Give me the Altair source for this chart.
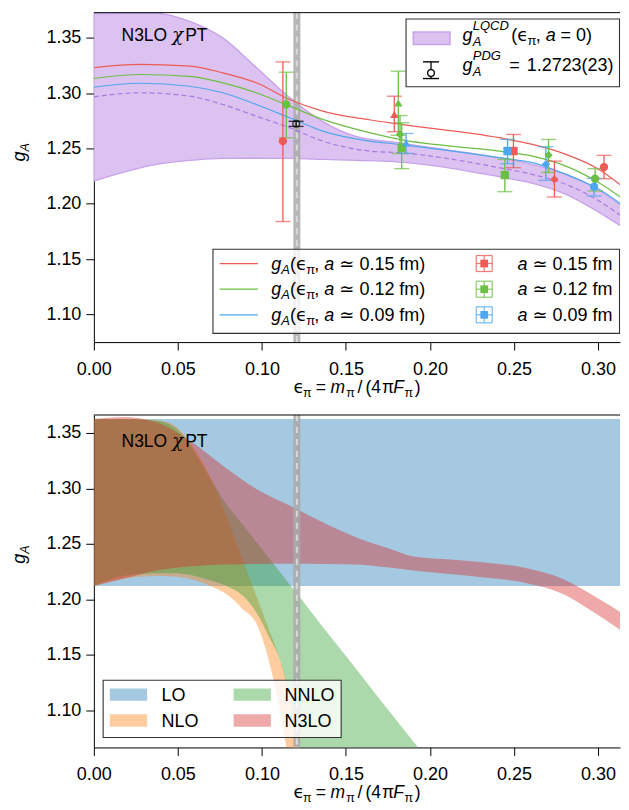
import altair as alt
import pandas as pd

FONT = "Liberation Sans"
GFONT = "DejaVu Sans"

# ---------------- layout constants (page pixels of the reference) ----------------
XMAX = 0.31313
TOP_DOM = [1.0750, 1.37283]
BOT_DOM = [1.06622, 1.36622]
W, H1, H2 = 527, 330, 333
X0, Y0T, Y0B = 94, 8, 411

x_ticks = [0.0, 0.05, 0.10, 0.15, 0.20, 0.25, 0.30]
y_ticks = [1.10, 1.15, 1.20, 1.25, 1.30, 1.35]

# ---------------- top panel data ----------------
eps_curve = [0.0, 0.0273, 0.057, 0.0768, 0.0967, 0.1165, 0.1362, 0.164, 0.1818, 0.2412, 0.261, 0.281, 0.3006, 0.318]
ga_a015 = [1.3230, 1.3260, 1.3244, 1.3184, 1.3094, 1.2943, 1.2838, 1.2760, 1.2720, 1.2598, 1.2537, 1.2447, 1.2311, 1.2116]
ga_a012 = [1.3133, 1.3169, 1.3153, 1.3094, 1.3004, 1.2883, 1.2763, 1.2643, 1.2582, 1.2477, 1.2432, 1.2341, 1.2191, 1.2011]
ga_a009 = [1.3054, 1.3090, 1.3063, 1.3004, 1.2898, 1.2778, 1.2657, 1.2567, 1.2537, 1.2417, 1.2372, 1.2266, 1.2131, 1.1950]
ga_a000 = [1.2967, 1.3004, 1.2973, 1.2898, 1.2792, 1.2688, 1.2567, 1.2477, 1.2462, 1.2327, 1.2266, 1.2176, 1.2026, 1.1845]

eps_band = [0.0, 0.02, 0.0372, 0.057, 0.0767, 0.0967, 0.1165, 0.136, 0.156, 0.18, 0.20, 0.241, 0.26, 0.281, 0.30, 0.318]
band_hi = [1.3717, 1.3722, 1.3722, 1.3650, 1.3500, 1.3232, 1.2961, 1.2745, 1.2609, 1.2555, 1.2510, 1.2417, 1.2360, 1.2266, 1.2130, 1.1935]
band_lo = [1.2206, 1.2295, 1.2356, 1.2393, 1.2411, 1.2412, 1.2410, 1.2402, 1.2393, 1.2380, 1.2350, 1.2245, 1.2190, 1.2086, 1.1930, 1.1755]

pt_ens = ["a15", "a15", "a15", "a15", "a15",
          "a12", "a12", "a12", "a12", "a12", "a12", "a12",
          "a09", "a09", "a09", "a09"]
pt_eps = [0.1125, 0.1788, 0.2497, 0.2741, 0.3036,
          0.1145, 0.1812, 0.1822, 0.1832, 0.2446, 0.2706, 0.2983,
          0.1858, 0.2462, 0.2690, 0.2977]
pt_ga = [1.2567, 1.2808, 1.2477, 1.2221, 1.2332,
         1.2898, 1.2913, 1.2627, 1.2507, 1.2260, 1.2440, 1.2227,
         1.2552, 1.2477, 1.2357, 1.2155]
pt_lo = [1.1840, 1.2652, 1.2327, 1.2062, 1.2227,
         1.2597, 1.2620, 1.2455, 1.2318, 1.2110, 1.2284, 1.2116,
         1.2456, 1.2363, 1.2212, 1.2071]
pt_hi = [1.3283, 1.2973, 1.2627, 1.2386, 1.2438,
         1.3190, 1.3199, 1.2798, 1.2733, 1.2402, 1.2582, 1.2318,
         1.2636, 1.2582, 1.2516, 1.2230]
pt_shape = ["circle", "triangle-up", "square", "diamond", "circle",
            "circle", "triangle-up", "diamond", "square", "square", "diamond", "circle",
            "triangle-up", "square", "diamond", "circle"]

pdg_eps, pdg_ga, pdg_err = [0.1204], [1.2723], [0.0023]
eps_phys = [0.1208]

# ---------------- bottom panel data ----------------
lo_eps = [0.0, 0.32]
lo_lo = [1.2120, 1.2120]
lo_hi = [1.3626, 1.3626]

nlo_eps = [0.0, 0.0174, 0.0372, 0.0471, 0.057, 0.067, 0.0768, 0.0828, 0.0887, 0.0967, 0.1046, 0.110, 0.1145, 0.118, 0.1225, 0.13]
nlo_lo = [1.2120, 1.2185, 1.2209, 1.2205, 1.2185, 1.2135, 1.2065, 1.2000, 1.1910, 1.1780, 1.1420, 1.1050, 1.0670, 1.0400, 1.0000, 0.9500]
nlo_hi = [1.3626, 1.3626, 1.3615, 1.3575, 1.3416, 1.3176, 1.2830, 1.2590, 1.2350, 1.2030, 1.1710, 1.1490, 1.1270, 1.1030, 1.0670, 0.9900]

nnlo_eps = [0.0, 0.0174, 0.0372, 0.0471, 0.057, 0.067, 0.0788, 0.0887, 0.0967, 0.1046, 0.1115, 0.118, 0.1225, 0.1283, 0.1511, 0.17, 0.1925, 0.21]
nnlo_lo = [1.2120, 1.2210, 1.2235, 1.2235, 1.2220, 1.2180, 1.2120, 1.2030, 1.1880, 1.1650, 1.1420, 1.1000, 1.0670, 1.0200, 0.9500, 0.9500, 0.9500, 0.9500]
nnlo_hi = [1.3626, 1.3626, 1.3610, 1.3560, 1.3400, 1.3150, 1.2860, 1.2670, 1.2515, 1.2363, 1.2230, 1.2105, 1.2020, 1.1905, 1.1466, 1.1100, 1.0670, 1.0330]

n3lo_eps = [0.0, 0.0174, 0.0372, 0.057, 0.0768, 0.0967, 0.1165, 0.1362, 0.156, 0.176, 0.19, 0.21, 0.2294, 0.259, 0.2789, 0.2987, 0.318]
n3lo_lo = [1.2119, 1.2185, 1.2260, 1.2296, 1.2314, 1.2318, 1.2320, 1.2318, 1.2314, 1.2285, 1.2260, 1.2230, 1.2200, 1.2140, 1.2050, 1.1870, 1.1674]
n3lo_hi = [1.3626, 1.3645, 1.3596, 1.3431, 1.3205, 1.2995, 1.2845, 1.2695, 1.2560, 1.2455, 1.2386, 1.2360, 1.2335, 1.2275, 1.2185, 1.2020, 1.1840]

# ---------------- colours ----------------
C15, C12, C09 = "#ee5a55", "#6cbf45", "#4ea7ee"
ens_color = {"a15": C15, "a12": C12, "a09": C09}
PURPLE_FILL, PURPLE_EDGE, PURPLE_LINE = "#dcc2f0", "#c7a2ea", "#a978e0"
TAB = {"LO": "#1f77b4", "NLO": "#ff7f0e", "NNLO": "#2ca02c", "N3LO": "#d62728"}

# ---------------- helpers ----------------
ONE = pd.DataFrame({"k": [0]})
EM = {" ": 0.278, "(": 0.333, ")": 0.333, ",": 0.278, ".": 0.278, "=": 0.584, "/": 0.278,
      "a": 0.556, "f": 0.278, "m": 0.833, "g": 0.556, "A": 0.667, "π": 0.62, "ϵ": 0.58, "≃": 0.838}
for d in "0123456789":
    EM[d] = 0.556

FS, SS = 18, 13   # legend text size, sub/superscript size


def width(s, size):
    return sum(EM.get(ch, 0.6) for ch in s) * size


def xs():
    return alt.Scale(domain=[0, XMAX], nice=False, zero=False)


def xaxis():
    return alt.Axis(values=x_ticks, format=".2f", title=None, grid=False, tickSize=8, tickWidth=1,
                    tickColor="black", domainColor="black", domainWidth=1, labelFont=FONT,
                    labelFontSize=18, labelColor="black", labelPadding=10, labelFlush=False,
                    labelOverlap=False)


def yaxis():
    return alt.Axis(values=y_ticks, format=".2f", title=None, grid=False, tickSize=8, tickWidth=1,
                    tickColor="black", domainColor="black", domainWidth=1, labelFont=FONT,
                    labelFontSize=18, labelColor="black", labelPadding=5, labelFlush=False,
                    labelOverlap=False)


def T(px, py, s, oy, size=FS, it=False, font=FONT, angle=None, align="left", baseline="alphabetic"):
    p = dict(font=font, fontSize=size, align=align, baseline=baseline, color="black")
    if it:
        p["fontStyle"] = "italic"
    if angle is not None:
        p["angle"] = angle
    return alt.Chart(ONE).mark_text(**p).encode(
        x=alt.value(px - X0), y=alt.value(py - oy), text=alt.value(s))


def rich(px, py, pieces, oy):
    """Lay text pieces out one after another; leading blanks become an offset."""
    out, x = [], px
    for s, size, dy, it, font in pieces:
        lead = len(s) - len(s.lstrip(" "))
        x += lead * EM[" "] * size
        core = s.strip(" ")
        if core:
            out.append(T(x, py + dy, core, oy, size, it, font))
        x += width(s[lead:], size)
    return out


def R(x1, y1, x2, y2, oy, **p):
    return alt.Chart(ONE).mark_rect(**p).encode(
        x=alt.value(x1 - X0), x2=alt.value(x2 - X0), y=alt.value(y1 - oy), y2=alt.value(y2 - oy))


def L(x1, y1, x2, y2, oy, **p):
    return alt.Chart(ONE).mark_rule(**p).encode(
        x=alt.value(x1 - X0), x2=alt.value(x2 - X0), y=alt.value(y1 - oy), y2=alt.value(y2 - oy))


def P(px, py, oy, **p):
    return alt.Chart(ONE).mark_point(**p).encode(x=alt.value(px - X0), y=alt.value(py - oy))


def frame_extras(oy):
    anchor = L(X0 - 86, oy, X0 - 86, oy + 1, oy, opacity=0, strokeWidth=0)
    top = L(X0, oy, X0 + W, oy, oy, color="black", strokeWidth=1)
    return [anchor, top]


def phys_line():
    d = pd.DataFrame({"x": eps_phys})
    a = alt.Chart(d).mark_rule(color="#a9a9a9", strokeWidth=7, opacity=0.85).encode(
        x=alt.X("x:Q", scale=xs(), axis=xaxis()))
    b = alt.Chart(d).mark_rule(color="#dedede", strokeWidth=2, strokeDash=[6, 6], opacity=0.9).encode(
        x=alt.X("x:Q", scale=xs(), axis=xaxis()))
    return [a, b]


def y_title(oy):
    return [T(25.5, oy + 149, "g", oy, 18, True, FONT, angle=270),
            T(29, oy + 139, "A", oy, 12.5, True, FONT, angle=270)]


def x_title(oy, base):
    y = oy + base
    s, b = 17.5, 12.5
    parts = [(294.0, 0, "ϵ", s, False, GFONT), (303.6, 4, "π", b, False, FONT),
             (316.3, 0, "=", s, False, FONT), (331.0, 0, "m", s, True, FONT),
             (346.8, 4, "π", b, False, FONT), (358.0, 0, "/", s, False, FONT),
             (366.0, 0, "(4", s, False, FONT), (382.5, 0, "π", s, False, FONT),
             (393.8, 0, "F", s, True, FONT), (405.2, 4, "π", b, False, FONT),
             (415.5, 0, ")", s, False, FONT)]
    return [T(px, y + dy, t, oy, sz, it, f) for px, dy, t, sz, it, f in parts]


def n3lo_label(oy, base):
    y = oy + base
    return [T(121.7, y, "N3LO", oy, 17.5), T(172.5, y, "χ", oy, 18, True, "DejaVu Serif"),
            T(185.5, y, "PT", oy, 17.5)]


# ---------------- top panel ----------------
oy = Y0T
ysT = alt.Scale(domain=TOP_DOM, nice=False, zero=False)

df_band = pd.DataFrame({"x": eps_band, "lo": band_lo, "hi": band_hi})
band = alt.Chart(df_band).mark_area(interpolate="monotone", clip=True, color=PURPLE_FILL,
                                   stroke=PURPLE_EDGE, strokeWidth=1.3, opacity=1).encode(
    x=alt.X("x:Q", scale=xs(), axis=xaxis()),
    y=alt.Y("lo:Q", scale=ysT, axis=yaxis()), y2="hi:Q")

curve_rows = []
for name, vals in [("a15", ga_a015), ("a12", ga_a012), ("a09", ga_a009)]:
    for e, v in zip(eps_curve, vals):
        curve_rows.append({"x": e, "y": v, "s": name})
df_curves = pd.DataFrame(curve_rows)
curves = alt.Chart(df_curves).mark_line(interpolate="monotone", clip=True, strokeWidth=1.2).encode(
    x=alt.X("x:Q", scale=xs(), axis=xaxis()), y=alt.Y("y:Q", scale=ysT, axis=yaxis()),
    color=alt.Color("s:N", scale=alt.Scale(domain=["a15", "a12", "a09"], range=[C15, C12, C09]), legend=None),
    detail="s:N")
df_cont = pd.DataFrame({"x": eps_curve, "y": ga_a000})
cont = alt.Chart(df_cont).mark_line(interpolate="monotone", clip=True, strokeWidth=1.2,
                                    strokeDash=[5, 3], color=PURPLE_LINE).encode(
    x=alt.X("x:Q", scale=xs(), axis=xaxis()), y=alt.Y("y:Q", scale=ysT, axis=yaxis()))

df_pts = pd.DataFrame({"x": pt_eps, "y": pt_ga, "lo": pt_lo, "hi": pt_hi,
                       "c": [ens_color[e] for e in pt_ens], "shape": pt_shape})
err = alt.Chart(df_pts).mark_rule(strokeWidth=1.3).encode(
    x=alt.X("x:Q", scale=xs(), axis=xaxis()), y=alt.Y("lo:Q", scale=ysT, axis=yaxis()), y2="hi:Q",
    color=alt.Color("c:N", scale=None))
caps_rows = []
for r in df_pts.itertuples():
    caps_rows.append({"x": r.x, "y": r.lo, "c": r.c})
    caps_rows.append({"x": r.x, "y": r.hi, "c": r.c})
df_caps = pd.DataFrame(caps_rows)
caps = alt.Chart(df_caps).mark_tick(orient="horizontal", size=15, thickness=1.4).encode(
    x=alt.X("x:Q", scale=xs(), axis=xaxis()), y=alt.Y("y:Q", scale=ysT, axis=yaxis()),
    color=alt.Color("c:N", scale=None))
marks = alt.Chart(df_pts).mark_point(filled=True, size=70, opacity=1).encode(
    x=alt.X("x:Q", scale=xs(), axis=xaxis()), y=alt.Y("y:Q", scale=ysT, axis=yaxis()),
    color=alt.Color("c:N", scale=None), shape=alt.Shape("shape:N", scale=None))

df_pdg = pd.DataFrame({"x": pdg_eps, "y": pdg_ga,
                       "lo": [pdg_ga[0] - pdg_err[0]], "hi": [pdg_ga[0] + pdg_err[0]]})
pdg_err_m = alt.Chart(df_pdg).mark_rule(color="black", strokeWidth=1.3).encode(
    x=alt.X("x:Q", scale=xs(), axis=xaxis()), y=alt.Y("lo:Q", scale=ysT, axis=yaxis()), y2="hi:Q")
df_pdg_caps = pd.DataFrame({"x": pdg_eps * 2, "y": [df_pdg.lo[0], df_pdg.hi[0]]})
pdg_caps = alt.Chart(df_pdg_caps).mark_tick(orient="horizontal", size=15, thickness=1.4, color="black").encode(
    x=alt.X("x:Q", scale=xs(), axis=xaxis()), y=alt.Y("y:Q", scale=ysT, axis=yaxis()))
pdg_pt = alt.Chart(df_pdg).mark_point(shape="circle", filled=False, size=45, color="black",
                                      strokeWidth=1.3).encode(
    x=alt.X("x:Q", scale=xs(), axis=xaxis()), y=alt.Y("y:Q", scale=ysT, axis=yaxis()))

top_layers = [band] + phys_line() + [curves, cont, err, caps, marks, pdg_err_m, pdg_caps, pdg_pt]

# legend 1 (upper right)
leg1 = [R(406.7, 14.3, 620.5, 82.3, oy, fill="white", fillOpacity=0.8, stroke="#333333", strokeWidth=1.1),
        R(414, 27.3, 450.7, 40, oy, fill=PURPLE_FILL, stroke=PURPLE_EDGE, strokeWidth=1.5),
        L(431.7, 57.3, 431.7, 74, oy, color="black", strokeWidth=1.3),
        L(423.7, 57.3, 439.7, 57.3, oy, color="black", strokeWidth=1.4),
        L(423.7, 74, 439.7, 74, oy, color="black", strokeWidth=1.4),
        P(431.7, 68.5, oy, shape="circle", filled=True, fill="white", stroke="black", strokeWidth=1.3, size=45, opacity=1)]
leg1 += [T(463.3, 36.7, "g", oy, FS, True), T(473.5, 25.8, "LQCD", oy, SS, True),
         T(473.5, 41.3, "A", oy, SS, True)]
leg1 += rich(512.0, 36.7, [("(", FS, 0, False, FONT), ("ϵ", FS, 0, False, GFONT),
                           ("π", SS, 4, False, FONT), (", ", FS, 0, False, FONT),
                           ("a", FS, 0, True, FONT), (" = 0)", FS, 0, False, FONT)], oy)
leg1 += [T(463.3, 66.7, "g", oy, FS, True), T(473.5, 55.8, "PDG", oy, SS, True),
         T(473.5, 71.3, "A", oy, SS, True), T(510.0, 66.7, "=", oy, FS),
         T(527.5, 66.7, "1.2723(23)", oy, FS)]

# legend 2 (lower right)
leg2 = [R(213.3, 245, 620.5, 329.3, oy, fill="white", fillOpacity=0.8, stroke="#333333", strokeWidth=1.1)]
for rowy, col, lab in [(259.3, C15, "0.15"), (285.0, C12, "0.12"), (310.7, C09, "0.09")]:
    b = rowy + 6
    leg2.append(L(220, rowy, 258.3, rowy, oy, color=col, strokeWidth=1.2))
    leg2 += rich(271.7, b, [("g", FS, 0, True, FONT), ("A", SS, 4, True, FONT),
                            ("(", FS, 0, False, FONT), ("ϵ", FS, 0, False, GFONT),
                            ("π", SS, 4, False, FONT), (", ", FS, 0, False, FONT),
                            ("a", FS, 0, True, FONT), (" ≃ ", FS, 0, False, GFONT),
                            (lab + " fm)", FS, 0, False, FONT)], oy)
    cx = 485
    for (a1, b1, a2, b2) in [(cx, rowy - 8, cx, rowy + 8), (cx - 8, rowy, cx + 8, rowy),
                             (cx - 8, rowy - 8, cx + 8, rowy - 8), (cx - 8, rowy + 8, cx + 8, rowy + 8),
                             (cx - 8, rowy - 8, cx - 8, rowy + 8), (cx + 8, rowy - 8, cx + 8, rowy + 8)]:
        leg2.append(L(a1, b1, a2, b2, oy, color=col, strokeWidth=1.2, opacity=0.8))
    leg2.append(P(cx, rowy, oy, shape="square", filled=True, color=col, size=60, opacity=1))
    leg2 += rich(518.3, b, [("a", FS, 0, True, FONT), (" ≃ ", FS, 0, False, GFONT),
                            (lab + " fm", FS, 0, False, FONT)], oy)

top = alt.layer(*(top_layers + frame_extras(oy) + n3lo_label(oy, 28.7) + leg1 + leg2
                  + y_title(oy) + x_title(oy, 381))).properties(width=W, height=H1)

# ---------------- bottom panel ----------------
oy = Y0B
ysB = alt.Scale(domain=BOT_DOM, nice=False, zero=False)


def band_chart(ex, lo, hi, col):
    d = pd.DataFrame({"x": ex, "lo": lo, "hi": hi})
    return alt.Chart(d).mark_area(interpolate="monotone", clip=True, color=col, opacity=0.4).encode(
        x=alt.X("x:Q", scale=xs(), axis=xaxis()),
        y=alt.Y("lo:Q", scale=ysB, axis=yaxis()), y2="hi:Q")


bands = [band_chart(lo_eps, lo_lo, lo_hi, TAB["LO"]),
         band_chart(nlo_eps, nlo_lo, nlo_hi, TAB["NLO"]),
         band_chart(nnlo_eps, nnlo_lo, nnlo_hi, TAB["NNLO"]),
         band_chart(n3lo_eps, n3lo_lo, n3lo_hi, TAB["N3LO"])]

leg3 = [R(103.3, 676.7, 341.7, 734, oy, fill="white", fillOpacity=0.8, stroke="#333333", strokeWidth=1.1),
        R(110, 685, 147.3, 697.3, oy, fill=TAB["LO"], fillOpacity=0.4),
        R(110, 710.7, 147.3, 723.3, oy, fill=TAB["NLO"], fillOpacity=0.4),
        R(234, 685, 271.3, 697.3, oy, fill=TAB["NNLO"], fillOpacity=0.4),
        R(234, 710.7, 271.3, 723.3, oy, fill=TAB["N3LO"], fillOpacity=0.4),
        T(161.7, 697.3, "LO", oy), T(161.7, 723.3, "NLO", oy),
        T(285, 697.3, "NNLO", oy), T(285, 723.3, "N3LO", oy)]

bottom = alt.layer(*(bands + phys_line() + frame_extras(oy) + n3lo_label(oy, 31.7) + leg3
                     + y_title(oy) + x_title(oy, 384))).properties(width=W, height=H2)

chart = alt.vconcat(top, bottom, spacing=73, bounds="flush").properties(
    padding={"left": 0, "top": 0, "right": 0, "bottom": 0}
).configure_view(stroke=None)

chart.save("out.html", embed_options={"renderer": "svg", "actions": False})
